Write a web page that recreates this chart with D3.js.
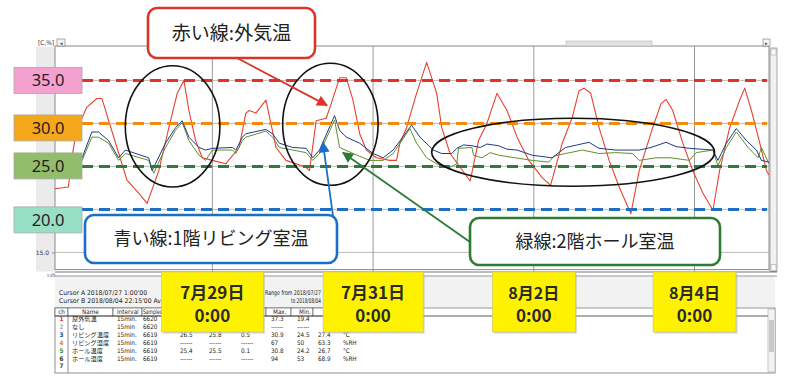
<!DOCTYPE html>
<html><head><meta charset="utf-8">
<script src="https://cdn.jsdelivr.net/npm/d3@7"></script>
<style>body{margin:0;background:#fff}svg{display:block}</style>
</head><body>
<svg id="c" width="800" height="377"></svg>
<script>
// ---------------- DATA ----------------
const outdoorTemp = [["07-27 01:00",22.4],["07-27 05:00",22.6],["07-27 06:00",26.0],["07-27 07:30",29.2],["07-27 10:30",31.9],["07-27 13:30",32.9],["07-27 15:00",32.9],["07-27 19:30",27.2],["07-27 22:30",23.4],["07-28 02:00",21.9],["07-28 04:30",20.7],["07-28 08:00",24.5],["07-28 11:00",29.5],["07-28 13:30",33.5],["07-28 15:30",35.0],["07-28 17:00",31.5],["07-28 19:00",28.0],["07-28 21:00",26.0],["07-29 00:00",25.7],["07-29 04:00",25.3],["07-29 08:00",27.2],["07-29 10:00",31.2],["07-29 11:00",31.5],["07-29 13:00",31.2],["07-29 16:00",32.7],["07-29 19:00",27.2],["07-29 22:00",25.7],["07-30 04:00",24.9],["07-30 05:00",24.5],["07-30 07:00",30.3],["07-30 10:00",30.6],["07-30 11:30",32.3],["07-30 14:00",35.3],["07-30 16:00",35.3],["07-30 18:00",32.7],["07-30 20:00",28.8],["07-30 22:00",26.9],["07-31 01:00",26.0],["07-31 05:00",25.7],["07-31 07:00",25.7],["07-31 08:00",27.7],["07-31 10:00",29.5],["07-31 13:00",33.5],["07-31 16:00",37.1],["07-31 19:00",33.5],["07-31 20:30",29.5],["07-31 23:00",26.5],["08-01 02:00",24.9],["08-01 05:00",23.3],["08-01 07:30",28.0],["08-01 10:00",30.0],["08-01 13:00",33.5],["08-01 16:00",31.5],["08-01 19:00",28.4],["08-01 22:30",25.7],["08-02 02:30",23.7],["08-02 05:00",22.8],["08-02 08:30",27.7],["08-02 11:30",30.7],["08-02 13:30",33.8],["08-02 15:00",34.1],["08-02 17:00",33.5],["08-02 19:30",29.5],["08-02 22:30",25.7],["08-03 01:30",22.6],["08-03 05:00",19.5],["08-03 07:30",24.5],["08-03 11:30",29.5],["08-03 14:00",32.3],["08-03 15:30",32.8],["08-03 17:30",31.5],["08-03 20:30",27.7],["08-03 23:30",24.5],["08-04 02:30",21.9],["08-04 05:30",19.9],["08-04 07:30",24.5],["08-04 10:30",29.5],["08-04 13:30",32.7],["08-04 15:00",34.1],["08-04 17:00",31.5],["08-04 19:30",27.7],["08-04 21:30",24.5],["08-04 22:15",24.0]];

const livingTemp = [["07-27 01:00",26.2],["07-27 05:00",26.0],["07-27 09:00",25.9],["07-27 12:00",29.0],["07-27 14:00",29.0],["07-27 17:00",28.0],["07-27 20:00",26.0],["07-27 22:00",26.9],["07-28 05:00",26.0],["07-28 06:00",24.5],["07-28 10:00",27.7],["07-28 13:00",29.5],["07-28 15:00",30.3],["07-28 17:00",28.4],["07-28 20:00",27.2],["07-28 22:00",26.9],["07-29 00:00",27.1],["07-29 06:00",27.2],["07-29 07:00",26.9],["07-29 09:00",28.4],["07-29 10:00",28.8],["07-29 16:00",29.3],["07-29 18:00",28.8],["07-29 20:00",27.7],["07-30 00:00",27.2],["07-30 04:00",27.1],["07-30 06:00",26.0],["07-30 08:00",26.9],["07-30 12:30",30.9],["07-30 14:00",29.2],["07-30 16:00",28.4],["07-30 20:00",27.7],["07-31 00:00",26.5],["07-31 03:00",26.0],["07-31 06:00",26.9],["07-31 11:30",29.8],["07-31 14:00",28.4],["07-31 18:00",26.9],["07-31 20:30",26.5],["07-31 23:30",26.5],["08-01 01:00",27.1],["08-01 03:00",27.5],["08-01 05:30",27.4],["08-01 08:00",27.2],["08-01 10:00",27.6],["08-01 13:30",27.4],["08-01 16:00",27.0],["08-01 19:00",26.9],["08-01 23:30",26.3],["08-02 05:30",26.0],["08-02 07:30",26.6],["08-02 09:30",27.2],["08-02 13:00",27.5],["08-02 16:30",27.8],["08-02 19:30",27.1],["08-03 00:30",26.9],["08-03 07:30",26.9],["08-03 11:00",27.2],["08-03 15:30",27.8],["08-03 18:30",27.3],["08-03 22:30",27.1],["08-04 05:30",26.9],["08-04 07:00",25.7],["08-04 09:30",27.7],["08-04 12:30",29.4],["08-04 15:30",28.0],["08-04 18:30",26.9],["08-04 20:00",25.7],["08-04 22:15",25.5]];

const hallTemp = [["07-27 01:00",26.0],["07-27 05:00",25.8],["07-27 09:00",25.6],["07-27 12:00",28.4],["07-27 14:00",28.4],["07-27 17:00",27.7],["07-27 20:00",25.7],["07-27 22:00",26.5],["07-28 05:00",25.7],["07-28 06:30",24.2],["07-28 10:00",27.2],["07-28 13:00",29.2],["07-28 15:00",30.1],["07-28 17:00",28.0],["07-28 20:00",26.3],["07-28 22:00",25.7],["07-29 00:00",26.9],["07-29 06:00",26.9],["07-29 07:00",26.5],["07-29 09:00",28.0],["07-29 10:00",28.4],["07-29 16:00",29.1],["07-29 18:00",28.4],["07-29 20:00",27.2],["07-30 00:00",26.9],["07-30 04:00",26.6],["07-30 06:00",25.7],["07-30 08:00",26.5],["07-30 12:30",30.4],["07-30 14:00",27.2],["07-30 18:00",26.5],["07-30 23:00",25.7],["07-31 03:00",25.7],["07-31 06:00",26.5],["07-31 11:00",29.4],["07-31 13:00",27.7],["07-31 16:00",26.0],["07-31 19:00",25.3],["07-31 23:00",24.9],["08-01 01:00",25.3],["08-01 01:30",27.1],["08-01 05:30",27.2],["08-01 06:00",26.3],["08-01 08:30",26.0],["08-01 11:00",26.6],["08-01 13:30",26.3],["08-01 18:30",26.0],["08-01 23:30",25.7],["08-02 04:30",25.5],["08-02 06:00",26.2],["08-02 09:30",26.5],["08-02 14:30",26.9],["08-02 19:30",26.5],["08-03 00:30",26.6],["08-03 05:30",26.5],["08-03 07:30",25.7],["08-03 12:30",26.0],["08-03 17:00",26.0],["08-03 22:30",25.7],["08-04 00:30",26.6],["08-04 05:30",26.9],["08-04 07:00",25.1],["08-04 09:30",27.2],["08-04 12:30",29.0],["08-04 16:00",27.2],["08-04 19:00",26.0],["08-04 20:00",27.2],["08-04 22:15",25.3]];

const referenceLevels = [35, 30, 25, 20];
const referenceLabels = ["35.0", "30.0", "25.0", "20.0"];
const gridValues = [35, 30, 25, 20, 15];
const yTickLabelValues = [15];
const timeRange = ["07-27 01:00", "08-04 22:15"];
const dateMarks = ["07-29 00:00", "07-31 00:00", "08-02 00:00", "08-04 00:00"];
const dateLabels = ["7月29日", "7月31日", "8月2日", "8月4日"];
const timeLabels = ["0:00", "0:00", "0:00", "0:00"];
const calloutTexts = ["赤い線:外気温", "青い線:1階リビング室温", "緑線:2階ホール室温"];
// highlighted periods (time span, temperature span)
const highlightSpans = [
  [["07-27 22:00", "07-29 02:15"], [36.7, 22.6]],
  [["07-29 21:00", "07-31 01:30"], [37.0, 22.8]],
  [["07-31 17:30", "08-04 06:00"], [30.6, 22.7]]
];
// arrow target points (time, temperature)
const arrowTargets = [["07-30 10:15", 32.1], ["07-30 09:00", 27.8], ["07-30 15:00", 26.6]];

// data table under chart
const tableHeader = ["ch", "Name", "Interval", "Samples", "", "", "", "Max.", "Min.", "", ""];
const channelNos = ["1", "2", "3", "4", "5", "6", "7"];
const channelNames = ["屋外気温", "なし", "リビング温度", "リビング湿度", "ホール温度", "ホール湿度", ""];
const intervals = ["15min.", "15min", "15min.", "15min.", "15min.", "15min.", ""];
const samples = ["6620", "6620", "6619", "6619", "6619", "6619", ""];
const cursorAValues = ["", "------", "26.5", "------", "25.4", "------", ""];
const cursorBValues = ["", "------", "25.8", "------", "25.5", "------", ""];
const diffValues = ["", "------", "0.5", "------", "0.1", "------", ""];
const maxValues = ["37.3", "------", "30.9", "67", "30.8", "94", ""];
const minValues = ["19.4", "------", "24.5", "50", "24.2", "53", ""];
const avgValues = ["27.3", "------", "27.4", "63.3", "26.7", "68.9", ""];
const unitValues = ["°C", "", "°C", "%RH", "°C", "%RH", ""];
const cursorLines = ["Cursor A 2018/07/27  1:00'00", "Cursor B 2018/08/04 22:15'00  Av"];
const rangeLines = ["Range from 2018/07/27", "to 2018/08/04"];

// ---------------- DRAW ----------------
const parse = d3.timeParse("%Y-%m-%d %H:%M");
const T = s => parse("2018-" + s);
const svg = d3.select("#c");
const CJK = "'Noto Sans CJK JP', 'Noto Sans', sans-serif";

const L = 55, R = 769, TOP = 46, BOT = 269.6;
const x = d3.scaleTime().domain(timeRange.map(T)).range([L, R]);
const y = d3.scaleLinear().domain([13, 39]).range([BOT, TOP]);

// defs
const defs = svg.append("defs");
defs.append("clipPath").attr("id", "plotClip").append("rect")
  .attr("x", L).attr("y", TOP).attr("width", R - L).attr("height", BOT - TOP);
const arrowColors = ["#e0302a", "#1b6fc4", "#2e7b36"];
arrowColors.forEach((c, i) => {
  defs.append("marker").attr("id", "ah" + i).attr("viewBox", "0 0 10 10")
    .attr("refX", 9).attr("refY", 5).attr("markerWidth", 13).attr("markerHeight", 11)
    .attr("markerUnits", "userSpaceOnUse").attr("orient", "auto")
    .append("path").attr("d", "M0,0 L10,5 L0,10 z").attr("fill", c);
});

// left gray strip
svg.append("rect").attr("x", 36).attr("y", TOP + 1).attr("width", L - 36).attr("height", BOT - TOP + 1).attr("fill", "#ebebeb");

// plot frame
svg.append("rect").attr("x", L).attr("y", TOP).attr("width", R - L).attr("height", BOT - TOP)
  .attr("fill", "#fff").attr("stroke", "#8a8a8a").attr("stroke-width", 1);

// grid
svg.append("g").selectAll("line").data(gridValues).join("line")
  .attr("x1", L).attr("x2", R).attr("y1", d => y(d)).attr("y2", d => y(d))
  .attr("stroke", "#a8a8a8").attr("stroke-width", 0.8);
svg.append("g").selectAll("line").data(dateMarks).join("line")
  .attr("x1", d => x(T(d))).attr("x2", d => x(T(d))).attr("y1", TOP).attr("y2", BOT + 2)
  .attr("stroke", "#8f8f8f").attr("stroke-width", 0.9);

// y axis (only the 15.0 label is not hidden behind the level boxes)
const yAxis = d3.axisLeft(y).tickValues(yTickLabelValues).tickFormat(d3.format(".1f")).tickSize(3);
const ga = svg.append("g").attr("transform", `translate(${L},0)`).call(yAxis);
ga.select(".domain").remove();
ga.selectAll("line").attr("stroke", "#888");
ga.selectAll("text").attr("font-size", 6).attr("font-family", "DejaVu Sans").attr("fill", "#333");

// top label & controls
svg.append("text").attr("x", 38).attr("y", 45).attr("font-size", 6.5).attr("font-family", "DejaVu Sans Condensed, DejaVu Sans").attr("fill", "#333").text("[C,%]");
svg.append("rect").attr("x", 57).attr("y", 39).attr("width", 8).attr("height", 7).attr("fill", "#f4f4f4").attr("stroke", "#777").attr("stroke-width", 0.6);
svg.append("text").attr("x", 61).attr("y", 45).attr("text-anchor", "middle").attr("font-size", 5).attr("fill", "#333").text("◂");
svg.append("rect").attr("x", 566).attr("y", 41).attr("width", 86).attr("height", 5).attr("fill", "#e3e3e3").attr("stroke", "#aaa").attr("stroke-width", 0.5);
svg.append("rect").attr("x", 763).attr("y", 39).attr("width", 7).attr("height", 7).attr("fill", "#f4f4f4").attr("stroke", "#777").attr("stroke-width", 0.6);
svg.append("text").attr("x", 766.5).attr("y", 45).attr("text-anchor", "middle").attr("font-size", 5).attr("fill", "#333").text("▸");
// right scrollbar
svg.append("rect").attr("x", R + 1).attr("y", TOP + 2).attr("width", 7).attr("height", BOT - TOP).attr("fill", "#f2f2f2").attr("stroke", "#888").attr("stroke-width", 0.7);
svg.append("rect").attr("x", R + 2).attr("y", TOP + 3).attr("width", 5).attr("height", 6).attr("fill", "#fafafa").attr("stroke", "#999").attr("stroke-width", 0.5);
svg.append("rect").attr("x", R + 2).attr("y", BOT - 5).attr("width", 5).attr("height", 6).attr("fill", "#fafafa").attr("stroke", "#999").attr("stroke-width", 0.5);
// bottom scroll lines
svg.append("line").attr("x1", L).attr("x2", R + 8).attr("y1", 272).attr("y2", 272).attr("stroke", "#555").attr("stroke-width", 0.8);
svg.append("line").attr("x1", L).attr("x2", R + 8).attr("y1", 276).attr("y2", 276).attr("stroke", "#777").attr("stroke-width", 0.8);
svg.append("text").attr("x", 47).attr("y", 277).attr("font-size", 5).attr("fill", "#333").text("≡|⊡");

// series
const line = d3.line().x(d => x(T(d[0]))).y(d => y(d[1]));
const series = [[outdoorTemp, "#e8412f", 1.1], [hallTemp, "#5f8f2a", 1.0], [livingTemp, "#1d3b86", 1.0]];
const gs = svg.append("g").attr("clip-path", "url(#plotClip)");
series.forEach(([data, color, w]) => {
  gs.append("path").datum(data).attr("d", line).attr("fill", "none").attr("stroke", color).attr("stroke-width", w).attr("stroke-linejoin", "round");
});

// reference dashed lines
const refColors = ["#e3302b", "#f28c0f", "#2f7a3c", "#1e6fc2"];
svg.append("g").selectAll("line").data(referenceLevels).join("line")
  .attr("x1", L + 27).attr("x2", R - 2).attr("y1", d => y(d)).attr("y2", d => y(d))
  .attr("stroke", (d, i) => refColors[i]).attr("stroke-width", 3).attr("stroke-dasharray", "11,6");

// reference labels boxes
const boxShift = [0, 4.5, -0.5, 10.5];
const boxFill = ["#f4a1cf", "#f5a71b", "#92bd6b", "#97dfc5"];
const gl = svg.append("g");
referenceLevels.forEach((v, i) => {
  const cy = y(v) + boxShift[i];
  gl.append("rect").attr("x", 14).attr("y", cy - 13).attr("width", 68).attr("height", 26)
    .attr("fill", boxFill[i]).attr("stroke", "#a9a9a9").attr("stroke-width", 0.8);
  gl.append("text").attr("x", 48).attr("y", cy + 6).attr("text-anchor", "middle")
    .attr("font-family", "'Noto Sans', sans-serif").attr("font-size", 16.5).attr("fill", "#2b1d24").text(referenceLabels[i]);
});

// highlight ellipses
svg.append("g").selectAll("ellipse").data(highlightSpans).join("ellipse")
  .attr("cx", d => (x(T(d[0][0])) + x(T(d[0][1]))) / 2)
  .attr("cy", d => (y(d[1][0]) + y(d[1][1])) / 2)
  .attr("rx", d => (x(T(d[0][1])) - x(T(d[0][0]))) / 2)
  .attr("ry", d => (y(d[1][1]) - y(d[1][0])) / 2)
  .attr("fill", "none").attr("stroke", "#111").attr("stroke-width", 1.6);

// callouts
const callouts = [
  {x: 148, y: 8, w: 167, h: 50, c: "#d8352b", fs: 19, from: [237, 58]},
  {x: 85, y: 215, w: 252, h: 48, c: "#1b6fc4", fs: 18, from: [333, 216]},
  {x: 470, y: 218, w: 250, h: 47, c: "#2e7b36", fs: 18, from: [470, 242]}
];
callouts.forEach((co, i) => {
  const g = svg.append("g");
  g.append("rect").attr("x", co.x).attr("y", co.y).attr("width", co.w).attr("height", co.h)
    .attr("rx", 9).attr("fill", "#fff").attr("stroke", co.c).attr("stroke-width", 2.6);
  g.append("text").attr("x", co.x + co.w / 2).attr("y", co.y + co.h / 2 + co.fs * 0.36)
    .attr("text-anchor", "middle").attr("font-family", CJK).attr("font-size", co.fs).attr("fill", "#222")
    .text(calloutTexts[i]);
  const t = arrowTargets[i];
  svg.append("line").attr("x1", co.from[0]).attr("y1", co.from[1])
    .attr("x2", x(T(t[0]))).attr("y2", y(t[1]))
    .attr("stroke", co.c).attr("stroke-width", 1.8).attr("marker-end", `url(#ah${i})`);
});

// date box geometry (used to leave table cells hidden behind them)
const boxW = [102, 100, 83, 83];
const BOX_TOP = 272, BOX_H = 60;
const boxSpans = dateMarks.map((d, i) => [x(T(d)) - boxW[i] / 2, x(T(d)) + boxW[i] / 2]);
const hidden = (cx, cy) => cy - 4.5 < BOX_TOP + BOX_H && boxSpans.some(([a, b]) => cx > a - 8 && cx < b);

// lower panel band
svg.append("rect").attr("x", L).attr("y", 277).attr("width", R + 6 - L).attr("height", 30).attr("fill", "#f3f2f2");
const small = "DejaVu Sans Condensed, DejaVu Sans, 'Noto Sans CJK JP'";
cursorLines.forEach((s, i) => {
  svg.append("text").attr("x", 59).attr("y", 295 + i * 8).attr("font-size", 6.5).attr("font-family", small)
    .attr("fill", "#222").attr("textLength", i ? 102 : 88).attr("lengthAdjust", "spacingAndGlyphs").text(s);
});
rangeLines.forEach((s, i) => {
  svg.append("text").attr("x", i ? 291 : 265).attr("y", 295 + i * 8).attr("font-size", 6.5).attr("font-family", small)
    .attr("fill", "#222").attr("textLength", i ? 30 : 56).attr("lengthAdjust", "spacingAndGlyphs").text(s);
});

// table
const tg = svg.append("g");
tg.append("rect").attr("x", L).attr("y", 308).attr("width", R + 6 - L).attr("height", 65).attr("fill", "#fff").attr("stroke", "#777").attr("stroke-width", 0.8);
const colEdges = [55, 68, 113, 142, 172, 202, 232, 266, 291, 313, 338, 370];
for (let i = 0; i < colEdges.length - 1; i++) {
  tg.append("rect").attr("x", colEdges[i]).attr("y", 308).attr("width", colEdges[i + 1] - colEdges[i]).attr("height", 8)
    .attr("fill", "#fff").attr("stroke", "#444").attr("stroke-width", 0.6);
}
tg.append("line").attr("x1", L).attr("x2", R).attr("y1", 316).attr("y2", 316).attr("stroke", "#333").attr("stroke-width", 0.8);
tg.append("line").attr("x1", 68).attr("x2", 68).attr("y1", 316).attr("y2", 373).attr("stroke", "#444").attr("stroke-width", 0.6);
const colX = [61.5, 72, 117, 143, 180, 209, 241, 271, 297, 318, 343];
const colAnchor = ["middle", "start", "start", "start", "start", "start", "start", "start", "start", "start", "start"];
tableHeader.forEach((h, j) => {
  if (!h) return;
  tg.append("text").attr("x", j === 1 ? 82 : colX[j] + (j >= 7 ? 2 : 0)).attr("y", 314.3).attr("font-size", 6.3)
    .attr("font-family", small).attr("text-anchor", colAnchor[j]).attr("fill", "#222")
    .attr("textLength", j === 3 ? 19 : null).attr("lengthAdjust", "spacingAndGlyphs").text(h);
});
const chColors = ["#d82a2a", "#aaaaaa", "#1c3f9a", "#e58a10", "#3b8a2a", "#333", "#333"];
const cols = [channelNos, channelNames, intervals, samples, cursorAValues, cursorBValues, diffValues, maxValues, minValues, avgValues, unitValues];
channelNos.forEach((_, r) => {
  const yy = 321 + r * 7.9;
  cols.forEach((col, j) => {
    if (!col[r] || hidden(colX[j], yy)) return;
    tg.append("text").attr("x", colX[j]).attr("y", yy).attr("font-size", j === 1 ? 6.2 : 6.3)
      .attr("font-family", small).attr("text-anchor", colAnchor[j])
      .attr("fill", j === 0 ? chColors[r] : "#222").attr("font-weight", j === 0 ? "bold" : "normal").text(col[r]);
  });
});
// table scrollbar
tg.append("rect").attr("x", R - 1).attr("y", 309).attr("width", 7).attr("height", 63).attr("fill", "#f3f3f3").attr("stroke", "#999").attr("stroke-width", 0.5);
tg.append("rect").attr("x", R).attr("y", 320).attr("width", 5).attr("height", 32).attr("fill", "#c9c9c9");

// date boxes
dateMarks.forEach((d, i) => {
  const cx = x(T(d));
  const g = svg.append("g");
  g.append("rect").attr("x", cx - boxW[i] / 2 + 1.5).attr("y", BOX_TOP + 1.5).attr("width", boxW[i]).attr("height", BOX_H).attr("fill", "#b8b8a0").attr("opacity", 0.6);
  g.append("rect").attr("x", cx - boxW[i] / 2).attr("y", BOX_TOP).attr("width", boxW[i]).attr("height", BOX_H)
    .attr("fill", "#fff200").attr("stroke", "#c8c27a").attr("stroke-width", 0.6);
  g.append("text").attr("x", cx).attr("y", 299).attr("text-anchor", "middle").attr("font-family", CJK)
    .attr("font-weight", "bold").attr("font-size", i < 2 ? 17 : 16).attr("fill", "#2a2a2a").text(dateLabels[i]);
  g.append("text").attr("x", cx).attr("y", 322).attr("text-anchor", "middle").attr("font-family", CJK)
    .attr("font-weight", "bold").attr("font-size", 17).attr("fill", "#2a2a2a").text(timeLabels[i]);
});
</script>
</body></html>
